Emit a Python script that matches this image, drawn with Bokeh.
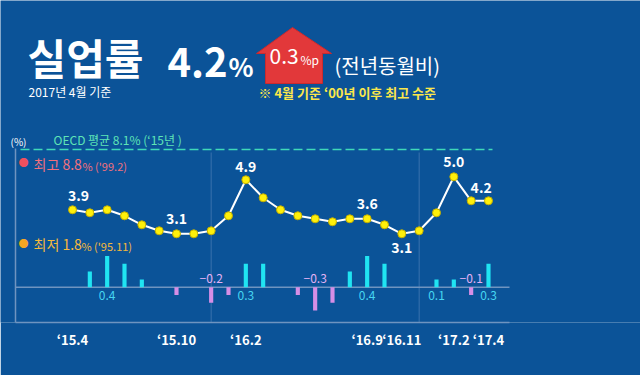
from bokeh.plotting import figure
from bokeh.models import Range1d, FixedTicker, Label, ColumnDataSource
from bokeh.embed import file_html
from bokeh.resources import INLINE
from bokeh.core.properties import value

# ---------------- data ----------------
months = ["2015.4", "2015.5", "2015.6", "2015.7", "2015.8", "2015.9", "2015.10", "2015.11",
          "2015.12", "2016.1", "2016.2", "2016.3", "2016.4", "2016.5", "2016.6", "2016.7",
          "2016.8", "2016.9", "2016.10", "2016.11", "2016.12", "2017.1", "2017.2", "2017.3",
          "2017.4"]
rate = [3.9, 3.8, 3.9, 3.7, 3.4, 3.2, 3.1, 3.1, 3.2, 3.7, 4.9, 4.3, 3.9, 3.7, 3.6, 3.5,
        3.6, 3.6, 3.4, 3.1, 3.2, 3.8, 5.0, 4.2, 4.2]
yoy_change = [0.0, 0.2, 0.4, 0.3, 0.1, 0.0, -0.1, 0.0, -0.2, -0.1, 0.3, 0.3, 0.0, -0.1, -0.3,
              -0.2, 0.2, 0.4, 0.3, 0.0, 0.0, 0.1, 0.1, -0.1, 0.3]
tick_months = ["2015.4", "2015.10", "2016.2", "2016.9", "2016.11", "2017.2", "2017.4"]
tick_labels = ["‘15.4", "‘15.10", "‘16.2", "‘16.9", "‘16.11", "‘17.2", "‘17.4"]
rate_label_months = ["2015.4", "2015.10", "2016.2", "2016.9", "2016.11", "2017.2", "2017.3"]
yoy_label_months = ["2015.6", "2015.12", "2016.2", "2016.6", "2016.9", "2017.1", "2017.3", "2017.4"]
year_divider_months = ["2015.12", "2016.12"]
current_rate = 4.2
current_change = 0.3
oecd_avg, oecd_year = 8.1, "‘15년"
max_rate, max_when = 8.8, "'99.2"
min_rate, min_when = 1.8, "'95.11"

# ---------------- layout ----------------
BG = "#0b5398"
KR = "Noto Sans CJK KR"
W, H = 640, 375
FB = 322             # frame bottom (px)
IX0, PXI = 72.0, 17.333   # px of first month, px per month
RA, RPX = 209.3, 30.0     # px of rate 3.9, px per %
BY0, BPX = 286.7, 78.0    # px of yoy zero, px per %p

idx = {m: i for i, m in enumerate(months)}


def fx(rx):
    return (rx - IX0) / PXI


def fy(ry):
    return 3.9 + (RA - ry) / RPX


p = figure(width=W, height=H,
           x_range=Range1d(-IX0 / PXI, (W - IX0) / PXI),
           y_range=Range1d(3.9 - (FB - RA) / RPX, 3.9 + RA / RPX),
           output_backend="svg", toolbar_location=None,
           min_border_left=0, min_border_right=0, min_border_top=0,
           min_border_bottom=H - FB, y_axis_location=None,
           background_fill_color=BG, border_fill_color=BG, outline_line_color=None)
p.xgrid.visible = False
p.ygrid.visible = False
p.extra_y_ranges = {"yoy": Range1d(-(FB - BY0) / BPX, BY0 / BPX)}

xa = p.xaxis[0]
xa.ticker = FixedTicker(ticks=[idx[m] for m in tick_months])
xa.major_label_overrides = {idx[m]: t for m, t in zip(tick_months, tick_labels)}
xa.bounds = (fx(15), fx(509))
xa.axis_line_color = "#6f94c0"
xa.axis_line_width = 1.5
xa.major_tick_line_color = None
xa.minor_tick_line_color = None
xa.major_label_text_color = "white"
xa.major_label_text_font = KR
xa.major_label_text_font_size = "13px"
xa.major_label_text_font_style = "bold"
xa.major_label_standoff = 1

# frame decorations
p.segment(x0=[fx(15)], y0=[fy(148)], x1=[fx(15)], y1=[fy(322)], line_color="#6f94c0", line_width=1.5)
p.segment(x0=[idx[m] for m in year_divider_months], x1=[idx[m] for m in year_divider_months],
          y0=fy(152), y1=fy(322), line_color="#3a72ad", line_width=1)
p.segment(x0=[fx(15)], x1=[fx(509)], y0=[0], y1=[0], y_range_name="yoy",
          line_color="#6f94c0", line_width=1.5)

# OECD dashed line
p.segment(x0=[fx(20)], x1=[fx(492)], y0=[fy(149)], y1=[fy(149)], line_color="#3fd9b9",
          line_width=1.5, line_dash="9 4")

# yoy bars
bar_src = ColumnDataSource(dict(
    x=list(range(len(months))), top=yoy_change,
    color=["#20e4f2" if v >= 0 else "#d68ee6" for v in yoy_change]))
p.vbar(x="x", top="top", bottom=0, width=0.24, fill_color="color", line_color=None,
       y_range_name="yoy", source=bar_src)

lab_x = [idx[m] for m in yoy_label_months]
lab_v = [yoy_change[idx[m]] for m in yoy_label_months]
yl_src = ColumnDataSource(dict(
    x=lab_x, y=[0] * len(lab_x),
    text=[("−%.1f" % -v) if v < 0 else ("%.1f" % v) for v in lab_v],
    color=["#46d6f2" if v >= 0 else "#e2b2f4" for v in lab_v],
    dy=[8 if v >= 0 else -9 for v in lab_v]))
p.text(x="x", y="y", text="text", y_offset="dy", text_color="color", y_range_name="yoy",
       text_font=value(KR), text_font_size="12px", text_align="center",
       text_baseline="middle", source=yl_src)

# unemployment line
src = ColumnDataSource(dict(x=list(range(len(months))), y=rate))
p.line("x", "y", source=src, line_color="white", line_width=2)
p.scatter("x", "y", source=src, size=8, fill_color="#fff00a", line_color="#c2ae00", line_width=1)

rl_dx = [6, 0, 0, 0, 0, 0, 10]
rl_dy = [-14, -15, -13, -15, 14, -15, -13]
rl_src = ColumnDataSource(dict(
    x=[idx[m] for m in rate_label_months], y=[rate[idx[m]] for m in rate_label_months],
    text=["%.1f" % rate[idx[m]] for m in rate_label_months], dx=rl_dx, dy=rl_dy))
p.text(x="x", y="y", text="text", x_offset="dx", y_offset="dy", text_color="white",
       text_font=value(KR), text_font_size="14px", text_font_style="bold",
       text_align="center", text_baseline="middle", source=rl_src)


def lab(text, rx, ry, size, color="white", style="normal", align="left"):
    p.add_layout(Label(x=fx(rx), y=fy(ry), text=text, text_font=KR, text_font_size=size,
                       text_color=color, text_font_style=style, text_align=align,
                       text_baseline="middle"))


# titles
lab("실업률", 27, 56, "42px", style="bold")
lab("%.1f" % current_rate, 167, 61, "40px", style="bold")
lab("%", 228, 65, "26px", style="bold")

arrow_x = [292, 331, 322, 322, 265, 265, 256]
arrow_y = [27, 53, 53, 83, 83, 53, 53]
p.patch([fx(v) for v in arrow_x], [fy(v) for v in arrow_y], fill_color="#e2383a", line_color="#c92a2e")
lab("%.1f" % current_change, 269, 55.5, "21px")
lab("%p", 300, 58.5, "12px")

lab("(전년동월비)", 334, 64.5, "20px")
lab("2017년 4월 기준", 28, 91, "12px")
lab("※ 4월 기준 ‘00년 이후 최고 수준", 258, 92, "13px", color="#fbe74a", style="bold")

lab("(%)", 10, 141, "10px")
lab("OECD 평균 %.1f%% (%s )" % (oecd_avg, oecd_year), 53, 138.5, "12px", color="#5ee4b6")

lab("●", 23, 162, "10px", color="#f0505e", align="center")
lab("최고 %.1f" % max_rate, 33, 163.5, "14px", color="#f2707c")
lab("%% (%s)" % max_when, 82, 165, "11px", color="#f2707c")

lab("●", 23, 243, "10px", color="#f5a623", align="center")
lab("최저 %.1f" % min_rate, 33, 243, "14px", color="#f6b93b")
lab("%% (%s)" % min_when, 81, 245, "11px", color="#f6b93b")

open("out.html", "w").write(file_html(p, INLINE))
